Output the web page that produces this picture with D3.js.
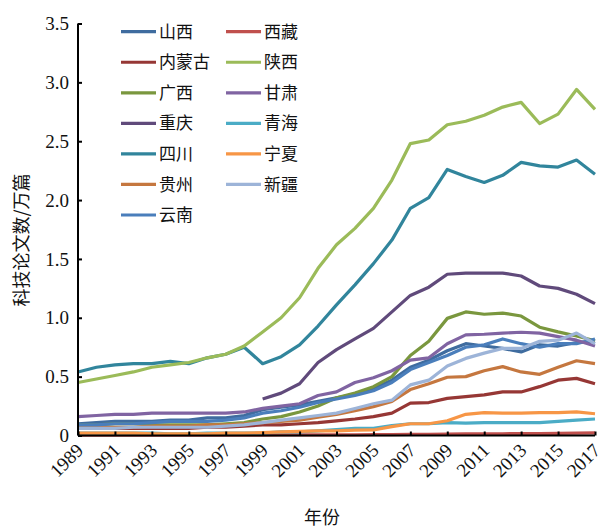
<!DOCTYPE html>
<html><head><meta charset="utf-8">
<script src="https://cdn.jsdelivr.net/npm/d3@7"></script>
<style>body{margin:0;background:#fff}svg{display:block}</style>
</head><body>
<svg id="c" width="598" height="528"></svg>
<script>
const years = d3.range(1989, 2018);
const provinces = ["山西","内蒙古","广西","重庆","四川","贵州","云南","西藏","陕西","甘肃","青海","宁夏","新疆"];
const colors = ["#3F6C9F","#963735","#7A973E","#604A7B","#31859C","#C5773F","#4A7EBB","#C0504D","#9BBB59","#8064A2","#4BACC6","#F79646","#9DB4D8"];
const N = null;
const shanxi   = [0.10,0.11,0.12,0.12,0.12,0.13,0.13,0.15,0.15,0.17,0.22,0.24,0.26,0.29,0.32,0.35,0.40,0.47,0.58,0.64,0.72,0.78,0.76,0.74,0.71,0.77,0.76,0.79,0.80];
const neimenggu= [0.06,0.06,0.06,0.06,0.06,0.06,0.06,0.07,0.07,0.08,0.09,0.09,0.10,0.11,0.125,0.14,0.16,0.19,0.275,0.28,0.315,0.33,0.345,0.37,0.37,0.415,0.47,0.485,0.44];
const guangxi  = [0.09,0.09,0.10,0.10,0.09,0.09,0.09,0.09,0.10,0.11,0.14,0.16,0.20,0.25,0.32,0.36,0.415,0.50,0.68,0.80,0.995,1.05,1.03,1.04,1.015,0.92,0.88,0.845,0.805];
const chongqing= [N,N,N,N,N,N,N,N,N,N,0.31,0.36,0.44,0.62,0.73,0.82,0.91,1.05,1.19,1.26,1.37,1.38,1.38,1.38,1.355,1.27,1.25,1.20,1.12];
const sichuan  = [0.54,0.58,0.60,0.61,0.61,0.63,0.61,0.66,0.69,0.75,0.61,0.67,0.77,0.93,1.11,1.28,1.46,1.66,1.93,2.02,2.26,2.20,2.15,2.21,2.32,2.29,2.28,2.34,2.22];
const guizhou  = [0.07,0.07,0.07,0.07,0.08,0.08,0.08,0.09,0.09,0.10,0.11,0.12,0.13,0.155,0.18,0.21,0.245,0.29,0.39,0.44,0.495,0.50,0.55,0.585,0.54,0.52,0.58,0.635,0.61];
const yunnan   = [0.09,0.09,0.10,0.10,0.11,0.12,0.12,0.12,0.13,0.15,0.19,0.21,0.24,0.28,0.31,0.34,0.38,0.45,0.56,0.62,0.68,0.75,0.77,0.82,0.78,0.75,0.78,0.78,0.82];
const xizang   = [0.003,0.003,0.003,0.003,0.003,0.003,0.003,0.003,0.003,0.004,0.004,0.005,0.005,0.005,0.006,0.006,0.007,0.008,0.01,0.01,0.012,0.013,0.014,0.015,0.016,0.017,0.018,0.02,0.022];
const shaanxi  = [0.45,0.48,0.51,0.54,0.58,0.60,0.62,0.66,0.69,0.76,0.88,1.00,1.17,1.42,1.62,1.76,1.93,2.17,2.48,2.51,2.64,2.67,2.72,2.79,2.83,2.65,2.73,2.94,2.77];
const gansu    = [0.16,0.17,0.18,0.18,0.19,0.19,0.19,0.19,0.19,0.20,0.23,0.25,0.27,0.34,0.37,0.45,0.49,0.55,0.64,0.66,0.78,0.855,0.86,0.87,0.877,0.87,0.84,0.81,0.76];
const qinghai  = [0.02,0.02,0.02,0.02,0.02,0.015,0.015,0.02,0.02,0.02,0.02,0.03,0.03,0.04,0.05,0.06,0.06,0.085,0.10,0.10,0.11,0.105,0.11,0.11,0.11,0.11,0.12,0.13,0.14];
const ningxia  = [0.02,0.02,0.02,0.02,0.015,0.015,0.015,0.015,0.02,0.02,0.025,0.03,0.035,0.04,0.04,0.045,0.047,0.075,0.10,0.10,0.125,0.18,0.195,0.19,0.19,0.195,0.195,0.20,0.185];
const xinjiang = [0.06,0.06,0.06,0.07,0.07,0.07,0.07,0.07,0.08,0.09,0.11,0.13,0.15,0.17,0.19,0.23,0.27,0.30,0.43,0.47,0.59,0.655,0.70,0.74,0.74,0.80,0.81,0.87,0.78];
const seriesValues = [shanxi,neimenggu,guangxi,chongqing,sichuan,guizhou,yunnan,xizang,shaanxi,gansu,qinghai,ningxia,xinjiang];
const yTicks = [0,0.5,1.0,1.5,2.0,2.5,3.0,3.5];
const yTickLabels = ["0","0.5","1.0","1.5","2.0","2.5","3.0","3.5"];
const xTicks = d3.range(1989, 2018, 2);
const yTitle = "科技论文数/万篇";
const xTitle = "年份";

const svg = d3.select("#c");
const L = 78, R = 595, T = 23.5, B = 435.5;
const x = d3.scaleLinear().domain([1989, 2017]).range([L, R]);
const y = d3.scaleLinear().domain([0, 3.5]).range([B, T]);
const serif = "'Liberation Serif','Times New Roman',serif";
const cjk = "'Noto Sans CJK SC','Noto Sans CJK JP',sans-serif";

const line = d3.line().defined(d => d != null).x((d, i) => x(years[i])).y(d => y(d));
seriesValues.forEach((vals, k) => {
  svg.append("path").attr("d", line(vals)).attr("fill", "none")
    .attr("stroke", colors[k]).attr("stroke-width", 3.2).attr("stroke-linejoin", "round");
});

// Y axis
const ya = svg.append("g").attr("transform", `translate(${L},0)`)
  .call(d3.axisRight(y).tickValues(yTicks).tickSize(4).tickFormat((d, i) => yTickLabels[i]));
ya.select(".domain").attr("stroke", "#000").attr("stroke-width", 2).attr("d", `M0,${T}V${B}`);
ya.selectAll(".tick line").attr("stroke", "#000").attr("stroke-width", 2);
ya.selectAll(".tick text").attr("x", -9).attr("text-anchor", "end")
  .attr("font-family", serif).attr("font-size", 19).attr("fill", "#111");

// X axis
const xa = svg.append("g").attr("transform", `translate(0,${B})`)
  .call(d3.axisTop(x).tickValues(xTicks).tickSize(4).tickFormat(d3.format("d")));
xa.select(".domain").attr("stroke", "#000").attr("stroke-width", 2).attr("d", `M${L},0H${R}`);
xa.selectAll(".tick line").attr("stroke", "#000").attr("stroke-width", 2);
xa.selectAll(".tick text").attr("y", 0).attr("dy", 0)
  .attr("transform", "translate(6,16) rotate(-45)").attr("text-anchor", "end")
  .attr("font-family", serif).attr("font-size", 19).attr("fill", "#111");

// Titles
svg.append("text").attr("transform", "translate(28,240) rotate(-90)")
  .attr("text-anchor", "middle").attr("font-family", cjk).attr("font-size", 18).attr("fill", "#111").text(yTitle);
svg.append("text").attr("x", 322).attr("y", 524).attr("text-anchor", "middle")
  .attr("font-family", cjk).attr("font-size", 18).attr("fill", "#111").text(xTitle);

// Legend
const lg = svg.append("g");
provinces.forEach((p, k) => {
  const col = k < 7 ? 0 : 1, row = k < 7 ? k : k - 7;
  const lx = col === 0 ? 121 : 226, ly = 31.7 + row * 30.55;
  lg.append("line").attr("x1", lx).attr("x2", lx + 35).attr("y1", ly).attr("y2", ly)
    .attr("stroke", colors[k]).attr("stroke-width", 3.2);
  lg.append("text").attr("x", lx + 38).attr("y", ly).attr("dy", "0.36em")
    .attr("font-family", cjk).attr("font-size", 17).attr("fill", "#111").text(p);
});
</script>
</body></html>
